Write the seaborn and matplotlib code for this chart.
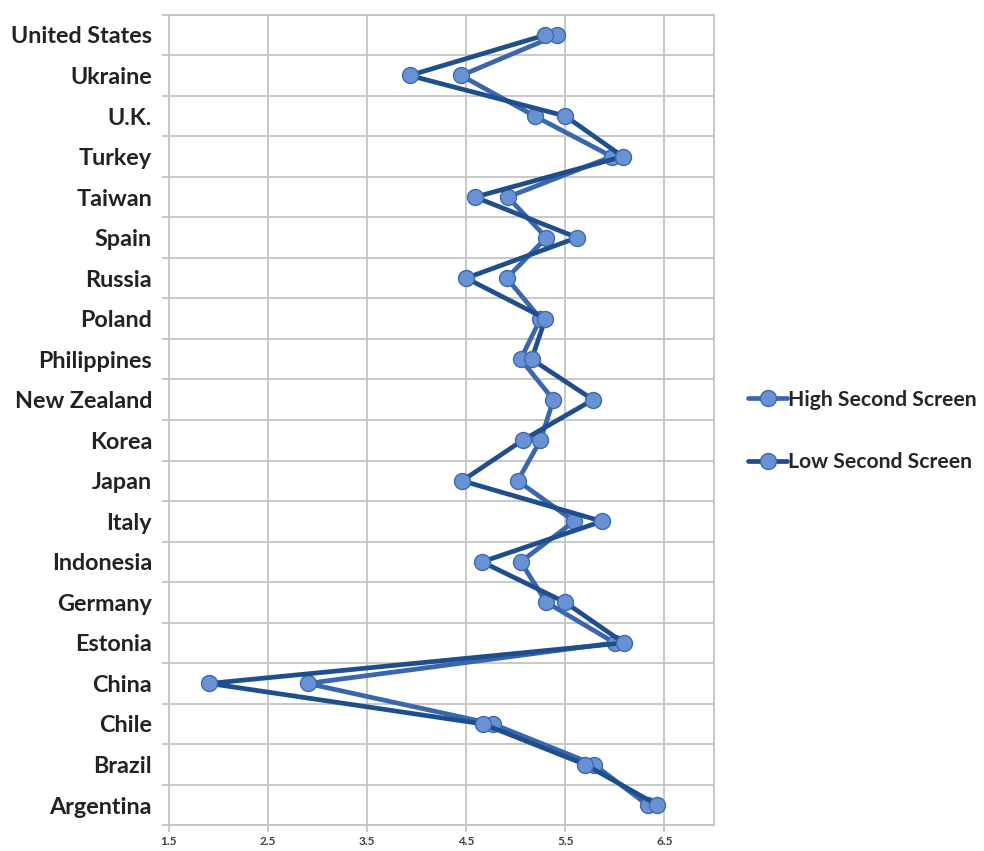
import matplotlib
matplotlib.use("Agg")
import matplotlib.pyplot as plt
import seaborn as sns
import pandas as pd
from matplotlib.ticker import FixedLocator

# Countries listed bottom-to-top on the category axis
countries = ["Argentina", "Brazil", "Chile", "China", "Estonia", "Germany",
             "Indonesia", "Italy", "Japan", "Korea", "New Zealand",
             "Philippines", "Poland", "Russia", "Spain", "Taiwan", "Turkey",
             "U.K.", "Ukraine", "United States"]

high_second_screen = [6.33, 5.79, 4.77, 2.90, 6.00, 5.31,
                      5.05, 5.59, 5.02, 5.25, 5.38,
                      5.05, 5.25, 4.91, 5.31, 4.92, 5.97,
                      5.19, 4.45, 5.42]

low_second_screen = [6.43, 5.70, 4.67, 1.91, 6.09, 5.50,
                     4.66, 5.87, 4.46, 5.07, 5.78,
                     5.16, 5.30, 4.50, 5.62, 4.59, 6.08,
                     5.50, 3.93, 5.30]

series_names = ["High Second Screen", "Low Second Screen"]
x_ticks = [1.5, 2.5, 3.5, 4.5, 5.5, 6.5]

df = pd.DataFrame({
    "country": countries * 2,
    "score": high_second_screen + low_second_screen,
    "group": [series_names[0]] * len(countries) + [series_names[1]] * len(countries),
})

sns.set_theme(style="white")
plt.rcParams["font.family"] = ["Lato", "DejaVu Sans"]

fig = plt.figure(figsize=(9.84, 8.51), dpi=100)
ax = fig.add_axes([168.7 / 984, 1 - 825.3 / 851, (714 - 168.7) / 984, (825.3 - 14.7) / 851])

line_colors = {series_names[0]: "#3A66AE", series_names[1]: "#1E4F8C"}

for name in series_names:
    sub = df[df["group"] == name]
    sns.lineplot(data=sub, x="score", y="country", sort=False, orient="y",
                 estimator=None, color=line_colors[name], linewidth=3.4,
                 marker="o", markersize=11.5, markerfacecolor="#6892D4",
                 markeredgecolor="#3F69AE", markeredgewidth=1.0,
                 label=name, ax=ax)

ax.set_xlim(1.5, 7.0)
ax.set_ylim(-0.5, len(countries) - 0.5)
ax.set_xticks(x_ticks)
ax.set_xticklabels([f"{t:.1f}" for t in x_ticks], fontsize=8.5, fontweight="bold", color="#404040")
ax.set_yticks(range(len(countries)))
ax.set_yticklabels(countries, fontsize=16.8, fontweight="bold", color="#222222")
ax.yaxis.set_minor_locator(FixedLocator([i - 0.5 for i in range(len(countries) + 1)]))

ax.set_xlabel("")
ax.set_ylabel("")

grid_color = "#C4C4C4"
ax.grid(False)
ax.xaxis.grid(True, which="major", color=grid_color, linewidth=1.3)
ax.yaxis.grid(True, which="minor", color=grid_color, linewidth=1.3)
ax.set_axisbelow(True)

for side in ["left", "bottom", "top", "right"]:
    ax.spines[side].set_visible(True)
    ax.spines[side].set_color(grid_color)
    ax.spines[side].set_linewidth(1.3)

ax.tick_params(axis="y", which="major", length=0, pad=12)
ax.tick_params(axis="y", which="minor", length=5, color=grid_color, width=1.3, direction="out")
ax.tick_params(axis="x", which="major", length=5, color=grid_color, width=1.3, direction="out", pad=3)
ax.tick_params(left=True, bottom=True, which="both")

handles, labels = ax.get_legend_handles_labels()
ax.legend(handles, labels, loc="center left", bbox_to_anchor=(729 / 984, 1 - 431 / 851),
          bbox_transform=fig.transFigure, frameon=False,
          handlelength=1.85, handletextpad=0.05, labelspacing=2.0,
          prop={"family": ["Lato", "DejaVu Sans"], "size": 15.2, "weight": "bold"})

fig.savefig("out.png", dpi=100)
